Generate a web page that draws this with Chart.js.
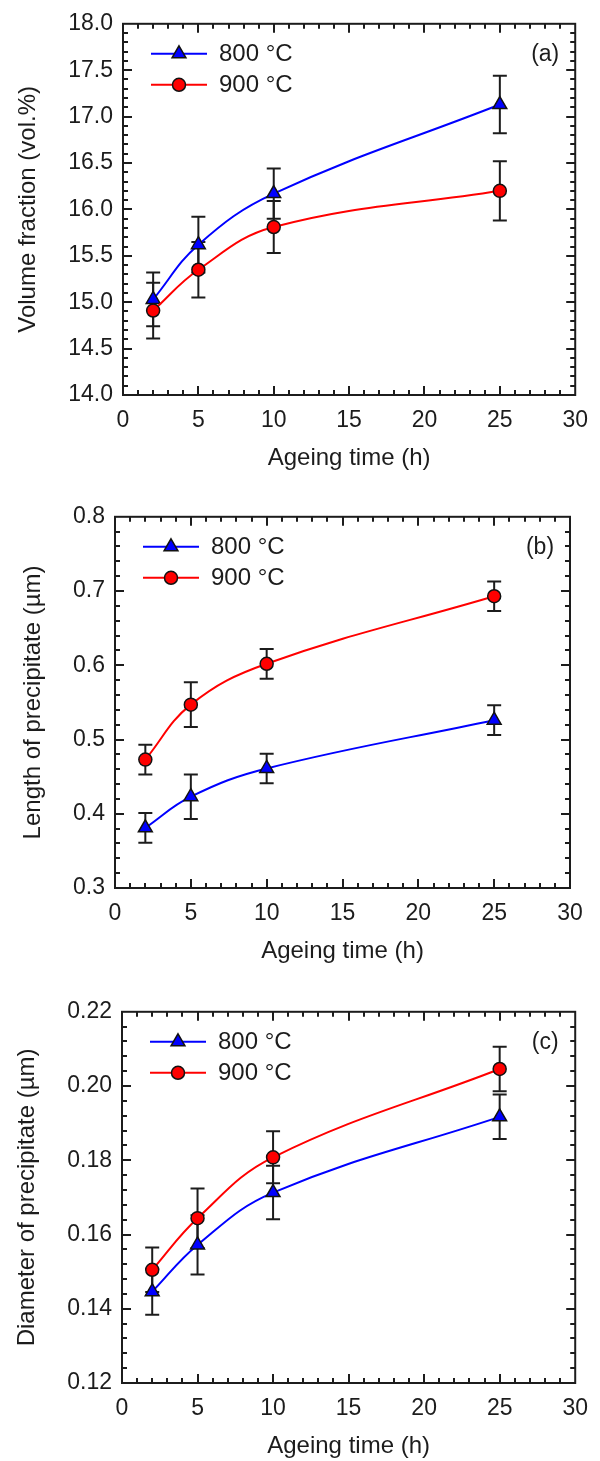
<!DOCTYPE html>
<html><head><meta charset="utf-8">
<script src="https://cdn.jsdelivr.net/npm/chart.js@4"></script>
<style>
body{margin:0;background:#fff;width:600px;height:1461px;overflow:hidden;position:relative}
.p{position:absolute;left:0;width:600px;height:473px}
</style></head><body>
<div class="p" style="top:0"><canvas id="ca" width="600" height="473"></canvas></div>
<div class="p" style="top:493px"><canvas id="cb" width="600" height="473"></canvas></div>
<div class="p" style="top:988px"><canvas id="cc" width="600" height="473"></canvas></div>
<script>
// ---- data ----
const times = [2, 5, 10, 25];
const seriesLabels = ['800 °C', '900 °C'];
const xTicks = [0, 5, 10, 15, 20, 25, 30];

const volFrac800 = [15.03, 15.62, 16.17, 17.13];
const volFrac800Err = [0.29, 0.30, 0.27, 0.31];
const volFrac900 = [14.91, 15.35, 15.81, 16.20];
const volFrac900Err = [0.30, 0.30, 0.28, 0.32];

const length800 = [0.381, 0.423, 0.461, 0.526];
const length800Err = [0.020, 0.030, 0.020, 0.020];
const length900 = [0.473, 0.547, 0.602, 0.693];
const length900Err = [0.020, 0.030, 0.020, 0.020];

const diam800 = [0.1446, 0.1572, 0.1713, 0.1917];
const diam800Err = [0.0062, 0.0080, 0.0072, 0.0060];
const diam900 = [0.1505, 0.1644, 0.1808, 0.2046];
const diam900Err = [0.0060, 0.0080, 0.0070, 0.0060];

const yTicksA = [14.0, 14.5, 15.0, 15.5, 16.0, 16.5, 17.0, 17.5, 18.0];
const yTicksB = [0.3, 0.4, 0.5, 0.6, 0.7, 0.8];
const yTicksC = [0.12, 0.14, 0.16, 0.18, 0.20, 0.22];

// ---- style ----
const FONT = "'Liberation Sans', Arial, sans-serif";
const TXT = '#1c1c1c';
const BLUE = '#0000ff', RED = '#ff0000';

const frameTicks = {
  id: 'frameTicks',
  afterDraw(chart, args, o) {
    const {ctx, chartArea: {left, right, top, bottom}, scales: {x, y}} = chart;
    ctx.save();
    ctx.strokeStyle = TXT; ctx.lineWidth = 2;
    ctx.beginPath();
    const nx = Math.round((x.max - x.min) / o.xMinor);
    for (let k = 1; k < nx; k++) {
      const px = Math.round(x.getPixelForValue(x.min + k * o.xMinor));
      const len = k % o.per === 0 ? 9 : 5;
      ctx.moveTo(px, bottom); ctx.lineTo(px, bottom - len);
      ctx.moveTo(px, top); ctx.lineTo(px, top + len);
    }
    const ny = Math.round((y.max - y.min) / o.yMinor);
    for (let k = 1; k < ny; k++) {
      const py = Math.round(y.getPixelForValue(y.min + k * o.yMinor));
      const len = k % o.per === 0 ? 9 : 5;
      ctx.moveTo(left, py); ctx.lineTo(left + len, py);
      ctx.moveTo(right, py); ctx.lineTo(right - len, py);
    }
    ctx.stroke();
    ctx.strokeRect(left, top, right - left, bottom - top);
    ctx.restore();
  }
};

const errorBars = {
  id: 'errorBars',
  beforeDatasetsDraw(chart) {
    const {ctx, scales: {y}} = chart;
    ctx.save();
    ctx.strokeStyle = TXT; ctx.lineWidth = 2;
    chart.data.datasets.forEach((ds, i) => {
      const meta = chart.getDatasetMeta(i);
      ds.errorBars.forEach((e, j) => {
        const px = meta.data[j].x;
        const v = ds.data[j].y;
        const y1 = y.getPixelForValue(v + e), y2 = y.getPixelForValue(v - e);
        ctx.beginPath();
        ctx.moveTo(px, y1); ctx.lineTo(px, y2);
        ctx.moveTo(px - 7, y1); ctx.lineTo(px + 7, y1);
        ctx.moveTo(px - 7, y2); ctx.lineTo(px + 7, y2);
        ctx.stroke();
      });
    });
    ctx.restore();
  }
};

const legendTag = {
  id: 'legendTag',
  afterDraw(chart, args, o) {
    const {ctx, chartArea: {left, right, top}} = chart;
    ctx.save();
    [0, 1].forEach((i, r) => {
      const ds = chart.data.datasets[i];
      const yy = top + 30 + r * 31;
      ctx.strokeStyle = ds.borderColor; ctx.lineWidth = ds.borderWidth;
      ctx.beginPath(); ctx.moveTo(left + 28, yy); ctx.lineTo(left + 84, yy); ctx.stroke();
      ctx.fillStyle = ds.pointBackgroundColor; ctx.strokeStyle = ds.pointBorderColor; ctx.lineWidth = ds.pointBorderWidth;
      Chart.helpers.drawPoint(ctx, {pointStyle: ds.pointStyle, radius: ds.pointRadius, rotation: 0, borderWidth: ds.pointBorderWidth}, left + 56, yy);
      ctx.fillStyle = TXT; ctx.font = '24px ' + FONT; ctx.textAlign = 'left'; ctx.textBaseline = 'middle';
      ctx.fillText(ds.label, left + 96, yy + 1);
    });
    ctx.font = '23px ' + FONT; ctx.textAlign = 'center'; ctx.textBaseline = 'middle';
    ctx.fillStyle = TXT;
    ctx.fillText(o.tag, right - 30, top + 31);
    ctx.restore();
  }
};

function makeChart(id, c) {
  const mk = (label, vals, errs, color, style, radius, order) => ({
    label, data: times.map((t, i) => ({x: t, y: vals[i]})), errorBars: errs,
    borderColor: color, borderWidth: 2, pointStyle: style, pointRadius: radius,
    pointBackgroundColor: color, pointBorderColor: '#111', pointBorderWidth: 1.5,
    tension: 0.4, fill: false, order
  });
  new Chart(document.getElementById(id), {
    type: 'line',
    data: {datasets: [
      mk(seriesLabels[0], c.s800, c.e800, BLUE, 'triangle', 8, 1),
      mk(seriesLabels[1], c.s900, c.e900, RED, 'circle', 6.5, 0)
    ]},
    options: {
      responsive: false, animation: false, events: [],
      layout: {padding: {top: 17, right: 600 - c.right, left: 0, bottom: 0}},
      plugins: {legend: {display: false}, tooltip: {enabled: false},
        frameTicks: {xMinor: 1, yMinor: c.yMinor, per: 5},
        legendTag: {tag: c.tag}},
      scales: {
        x: {type: 'linear', min: 0, max: 30,
          afterBuildTicks: s => { s.ticks = xTicks.map(v => ({value: v})); },
          afterFit: s => { s.height = 78; },
          grid: {display: false, drawTicks: false}, border: {display: false},
          ticks: {padding: 12, color: TXT, font: {size: 23, family: FONT}, maxRotation: 0, autoSkip: false,
            callback: v => String(v)},
          title: {display: true, text: 'Ageing time (h)', color: TXT, font: {size: 24, family: FONT}, padding: 0}},
        y: {type: 'linear', min: c.yTicks[0], max: c.yTicks[c.yTicks.length - 1],
          afterBuildTicks: s => { s.ticks = c.yTicks.map(v => ({value: v})); },
          afterFit: s => { s.width = c.left; },
          grid: {display: false, drawTicks: false}, border: {display: false},
          ticks: {padding: 10, color: TXT, font: {size: 23, family: FONT}, autoSkip: false,
            callback: v => Number(v).toFixed(c.dec)},
          title: {display: true, text: c.yTitle, color: TXT, font: {size: 24, family: FONT}, padding: {top: c.yTitlePad, bottom: 0}}}
      }
    },
    plugins: [errorBars, frameTicks, legendTag]
  });
}

makeChart('ca', {s800: volFrac800, e800: volFrac800Err, s900: volFrac900, e900: volFrac900Err,
  yTicks: yTicksA, dec: 1, yMinor: 0.1, yTitle: 'Volume fraction (vol.%)', tag: '(a)', left: 123, right: 577, yTitlePad: 14});
makeChart('cb', {s800: length800, e800: length800Err, s900: length900, e900: length900Err,
  yTicks: yTicksB, dec: 1, yMinor: 0.02, yTitle: 'Length of precipitate (µm)', tag: '(b)', left: 115, right: 570, yTitlePad: 19});
makeChart('cc', {s800: diam800, e800: diam800Err, s900: diam900, e900: diam900Err,
  yTicks: yTicksC, dec: 2, yMinor: 0.004, yTitle: 'Diameter of precipitate (µm)', tag: '(c)', left: 122, right: 577, yTitlePad: 13});
</script>
</body></html>
